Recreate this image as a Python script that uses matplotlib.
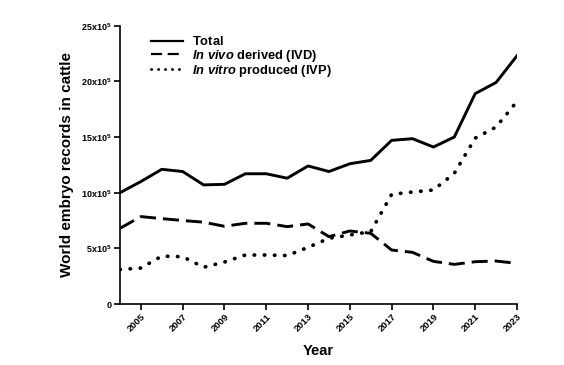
import matplotlib
matplotlib.use("Agg")
import matplotlib.pyplot as plt
from matplotlib.lines import Line2D

plt.rcParams['font.family'] = ['Liberation Sans', 'DejaVu Sans']
plt.rcParams['mathtext.fontset'] = 'custom'
plt.rcParams['mathtext.rm'] = 'Liberation Sans:bold'
plt.rcParams['mathtext.it'] = 'Liberation Sans:italic:bold'
plt.rcParams['mathtext.bf'] = 'Liberation Sans:bold'

years = list(range(2004, 2024))
total = [10.0, 11.0, 12.1, 11.9, 10.7, 10.75, 11.7, 11.7, 11.3, 12.4, 11.9, 12.6, 12.9,
         14.7, 14.85, 14.1, 15.0, 18.9, 19.9, 22.3]
ivd = [6.8, 7.85, 7.67, 7.5, 7.35, 6.98, 7.25, 7.25, 6.95, 7.19, 6.05, 6.56, 6.35,
       4.85, 4.64, 3.83, 3.56, 3.8, 3.86, 3.65]
ivp = [3.1, 3.23, 4.3, 4.25, 3.3, 3.77, 4.4, 4.4, 4.35, 5.09, 5.9, 6.2, 6.5,
       9.85, 10.06, 10.24, 11.74, 14.9, 15.9, 18.2]
labels = [r'$\mathrm{Total}$', r'$\it{In\ vivo}$ derived (IVD)', r'$\it{In\ vitro}$ produced (IVP)']
xticks = list(range(2005, 2024, 2))
yticks = [0, 5, 10, 15, 20, 25]
yticklabels = ['0', r'5x10$^{5}$', r'10x10$^{5}$', r'15x10$^{5}$', r'20x10$^{5}$', r'25x10$^{5}$']

fig = plt.figure(figsize=(5.64, 3.65), dpi=100)
ax = fig.add_axes([120/564, 1-304/365, 397/564, (304-25.7)/365])
lw = 2.1
ax.plot(years, total, color='black', lw=lw, linestyle='-', solid_joinstyle='round')
ax.plot(years, ivd, color='black', lw=lw, linestyle=(0, (5.5, 2.4)), dash_capstyle='butt')
ax.plot(years, ivp, color='black', lw=lw + 0.6, linestyle=(0, (0.1, 2.6)), dash_capstyle='round')

handles = [
    Line2D([], [], color='black', lw=1.6, linestyle='-'),
    Line2D([], [], color='black', lw=1.6, linestyle=(0, (5, 2.5))),
    Line2D([], [], color='black', lw=2.0, linestyle=(0, (0.1, 2.4)), dash_capstyle='round'),
]

ax.set_xlim(2004, 2023)
ax.set_ylim(0, 25)
ax.set_xticks(xticks)
ax.set_xticklabels([str(t) for t in xticks], rotation=45, ha='right', rotation_mode='anchor',
                   fontsize=6.8, fontweight='bold')
ax.set_yticks(yticks)
ax.set_yticklabels(yticklabels, fontsize=6.5, fontweight='bold')
for s in ['top', 'right']:
    ax.spines[s].set_visible(False)
for s in ['left', 'bottom']:
    ax.spines[s].set_linewidth(1.2)
ax.tick_params(direction='out', length=4, width=1.2, pad=2)
ax.set_xlabel('Year', fontsize=10.5, fontweight='bold', labelpad=7)
ax.set_ylabel('World embryo records in cattle', fontsize=11, fontweight='bold', labelpad=5)

leg = ax.legend(handles, labels, loc='upper left', bbox_to_anchor=(0.065, 0.985), frameon=False,
                prop={'size': 9.3, 'weight': 'bold'}, handlelength=2.5, handletextpad=0.65,
                labelspacing=-0.04, borderaxespad=0)
fig.savefig('out.png', dpi=100)
